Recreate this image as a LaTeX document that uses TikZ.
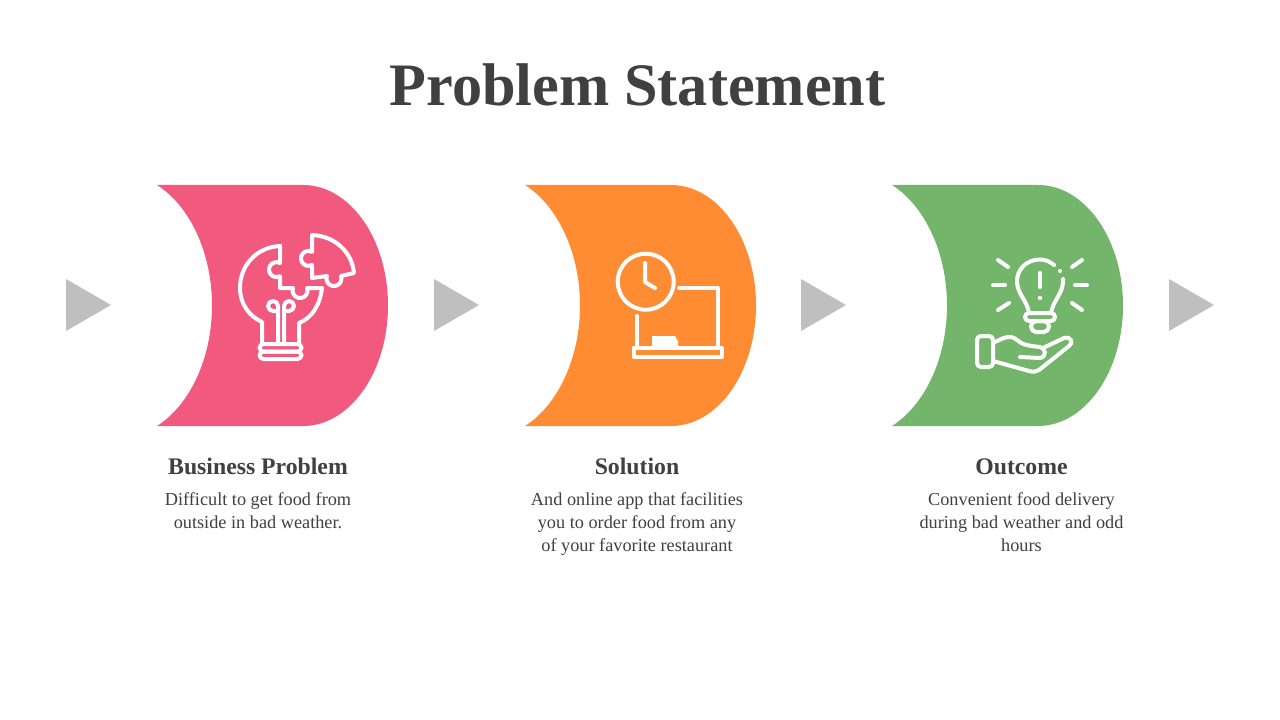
\documentclass[tikz,border=0pt]{standalone}
\usepackage{fontspec}
\setmainfont{Liberation Serif}
\definecolor{ink}{HTML}{404040}
\definecolor{pinkc}{HTML}{F15A7E}
\definecolor{orangec}{HTML}{FF8C33}
\definecolor{greenc}{HTML}{74B56C}
\definecolor{grayc}{HTML}{BFBFBF}
\tikzset{
  panel/.pic={\fill[pic actions] (157,185) -- (303,185) .. controls (350,185) and (388,239) .. (388,305.5) .. controls (388,372) and (350,426) .. (303,426) -- (157,426) .. controls (190,405) and (212,358) .. (212,305.5) .. controls (212,253) and (190,206) .. (157,185) -- cycle;},
  tri/.pic={\fill[grayc] (66,279) -- (111,305) -- (66,331) -- cycle;},
  icon/.style={draw=white,line width=3pt,line cap=round,line join=round},
  titletext/.style={text=ink,font=\fontsize{45.2}{50}\selectfont\bfseries,anchor=base},
  headtext/.style={text=ink,font=\fontsize{17.8}{20}\selectfont\bfseries,anchor=base},
  bodytext/.style={text=ink,font=\fontsize{13.7}{17.25}\selectfont,align=center,anchor=base}
}
\begin{document}
\begin{tikzpicture}[x=0.75pt,y=-0.75pt]
\useasboundingbox (0,0) rectangle (1280,720);
\fill[white] (0,0) rectangle (1280,720);
\node[titletext] (title) at (637.5,105.5) {Problem Statement};
% panels
\pic[fill=pinkc] at (0,0) {panel};
\pic[fill=orangec] at (368,0) {panel};
\pic[fill=greenc] at (735,0) {panel};
% triangles
\pic at (0,0) {tri};
\pic at (368,0) {tri};
\pic at (735,0) {tri};
\pic at (1103,0) {tri};
% icon 1
\draw[icon] (280,246) .. controls (257,247) and (240,265) .. (240,288) .. controls (240,304) and (249,316) .. (262,322) -- (262,344);
\draw[icon] (280,246) -- (280,263) arc[start angle=-62,end angle=-298,radius=7.5] -- (280,288) -- (293,288) arc[start angle=200,end angle=-20,radius=7.5] -- (322,288) .. controls (320,305) and (312,318) .. (299,323) -- (299,344);
\draw[icon] (278,344) -- (278,306) arc[start angle=0,end angle=-270,radius=5] -- (278,311);
\draw[icon] (284,344) -- (284,306) arc[start angle=180,end angle=450,radius=5] -- (284,311);
\draw[icon,rounded corners=3pt] (259.5,344) rectangle (301.5,351.5);
\draw[icon,rounded corners=3pt] (259.5,351.5) rectangle (301.5,359);
\draw[icon] (312,235) .. controls (335,236) and (352,252) .. (354,273) -- (341,276) arc[start angle=-20,end angle=200,radius=7.5] -- (312,278) -- (312,265) arc[start angle=62,end angle=298,radius=7.5] -- cycle;
% icon 2
\draw[icon] (645.7,281.7) circle[radius=28];
\draw[icon] (645,263) -- (645,282) -- (655,288);
\draw[icon] (679,288) -- (717.7,288) -- (717.7,347.5);
\draw[icon] (637,316) -- (637,347.5);
\draw[icon] (633.5,347.5) rectangle (721.5,357);
\fill[white] (652,336) -- (675,336) -- (678,341) -- (678,347) -- (652,347) -- cycle;
% icon 3
\draw[icon] (1054,265) .. controls (1049,261) and (1045,259.5) .. (1040,259.5) .. controls (1026,259.5) and (1017,270) .. (1017,281) .. controls (1017,294) and (1027,300) .. (1029,313);
\draw[icon] (1063,279) .. controls (1064,293) and (1053,300) .. (1051,313);
\fill[white] (1060,271) circle[radius=2];
\draw[icon] (1040,273) -- (1040,287);
\fill[white] (1040,298) circle[radius=2.2];
\draw[icon,rounded corners=3pt] (1025,313) rectangle (1055,321);
\draw[icon,rounded corners=4pt] (1031,321) rectangle (1049,332);
\draw[icon] (993,285) -- (1005,285);
\draw[icon] (998,260) -- (1008,267);
\draw[icon] (998,310) -- (1009,303);
\draw[icon] (1075,285) -- (1087,285);
\draw[icon] (1072,267) -- (1082,260);
\draw[icon] (1072,303) -- (1082,310);
\draw[icon,rounded corners=3pt] (977,336) rectangle (993,367);
\draw[icon] (993,343) .. controls (1003,338) and (1010,334) .. (1017,340) .. controls (1022,345) and (1030,346) .. (1040,347) .. controls (1046,348) and (1047,357) .. (1040,358) -- (1020,357);
\draw[icon] (1043,348) -- (1064,338) .. controls (1071,336) and (1074,343) .. (1069,346) -- (1039,370) .. controls (1036,372) and (1033,372) .. (1029,371) -- (993,361);
% text
\node[headtext] (h1) at (258,474) {Business Problem};
\node[headtext] (h2) at (637,474) {Solution};
\node[headtext] (h3) at (1021.5,474) {Outcome};
\node[bodytext] (b1) at (258,528) {Difficult to get food from\\outside in bad weather.};
\node[bodytext] (b2) at (637,551) {And online app that facilities\\you to order food from any\\of your favorite restaurant};
\node[bodytext] (b3) at (1021.5,551) {Convenient food delivery\\during bad weather and odd\\hours};
\end{tikzpicture}
\end{document}
